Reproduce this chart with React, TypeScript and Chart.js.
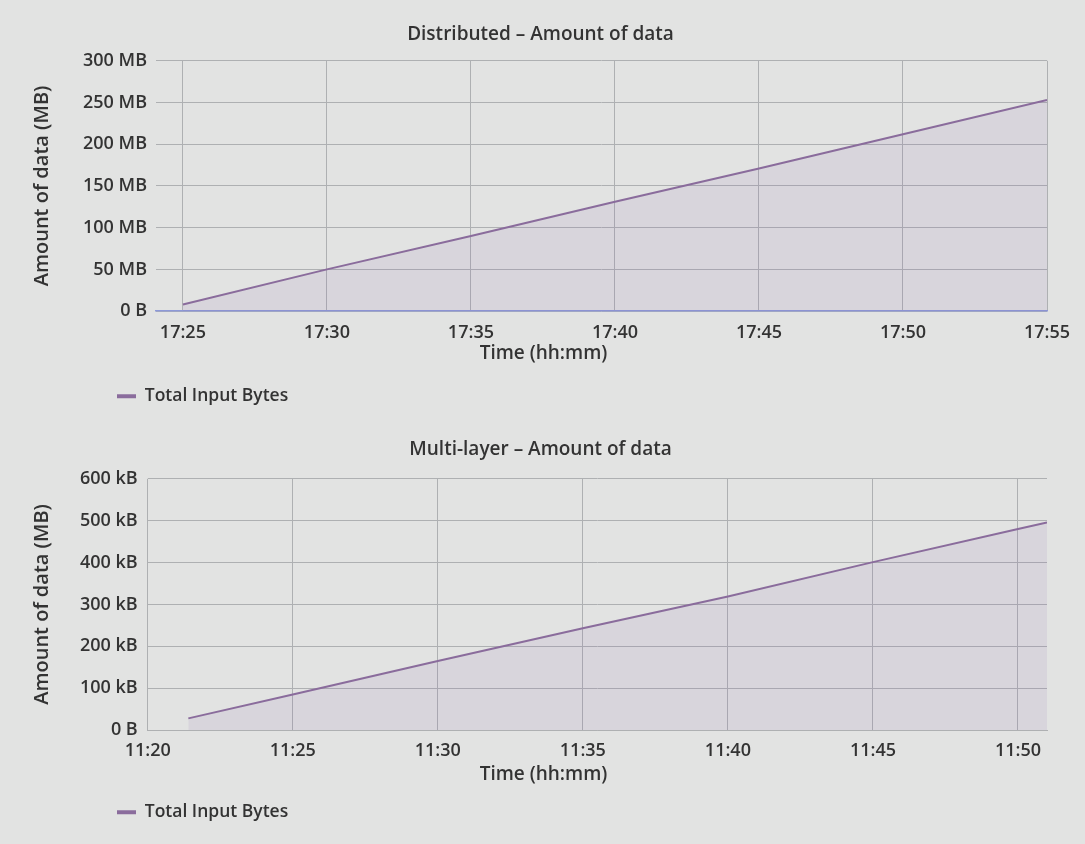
import React, { useEffect, useRef } from "react";
import { Chart, registerables } from "chart.js";

Chart.register(...registerables);

// ---------- data ----------
const seriesLabel = "Total Input Bytes";

const topTitle = "Distributed – Amount of data";
const topTimes = ["17:25", "17:30", "17:35", "17:40", "17:45", "17:50", "17:55"];
const topValuesMB = [8, 50, 90, 131, 171, 212, 253];
const topYTickLabels = ["0 B", "50 MB", "100 MB", "150 MB", "200 MB", "250 MB", "300 MB"];
const topXRange = ["17:24:04", "17:55"];

const bottomTitle = "Multi-layer – Amount of data";
const bottomTimes = ["11:21:24", "11:25", "11:30", "11:35", "11:40", "11:45", "11:50", "11:51"];
const bottomValuesKB = [28, 85, 165, 243, 319, 401, 480, 496];
const bottomYTickLabels = ["0 B", "100 kB", "200 kB", "300 kB", "400 kB", "500 kB", "600 kB"];
const bottomXRange = ["11:20", "11:51"];

const yAxisTitle = "Amount of data (MB)";
const xAxisTitle = "Time (hh:mm)";

// ---------- helpers ----------
const toMinutes = (s: string) => {
  const p = s.split(":").map(Number);
  return p[0] * 60 + p[1] + (p[2] || 0) / 60;
};
const fmtTime = (v: number) => {
  const total = Math.round(v);
  const h = Math.floor(total / 60);
  const m = total % 60;
  return `${h}:${m < 10 ? "0" : ""}${m}`;
};

const FONT = "'Open Sans', 'Noto Sans', sans-serif";
const TEXT = "#333333";
const GRID = "#aeb0b2";
const LINE = "#8a6c9c";
const FILL = "rgba(140,100,170,0.11)";

const layoutTweak = {
  id: "layoutTweak",
  afterLayout(chart: any) {
    const o = chart.options.plugins.layoutTweak || {};
    const l = chart.legend;
    if (l && typeof o.legendLeft === "number") l.left = o.legendLeft;
    for (const b of chart.boxes) {
      const t = b.options && b.options.text;
      if (t === xAxisTitle && o.subShift) {
        b.left += o.subShift;
        b.right += o.subShift;
      } else if (b === chart.titleBlock && o.titleShift) {
        b.left += o.titleShift;
        b.right += o.titleShift;
      }
    }
  },
};

function makeConfig(p: {
  title: string;
  times: string[];
  values: number[];
  yLabels: string[];
  yStep: number;
  xRange: string[];
  xBorder: string;
  xBorderWidth: number;
  padTop: number;
  padBottom: number;
  titlePadBottom: number;
  subPadBottom: number;
  axisShrink: number;
  xTickPad: number;
  yTitlePad: number;
  tickPad: number;
}) {
  const data = p.times.map((t, i) => ({ x: toMinutes(t), y: p.values[i] }));
  const yMax = p.yStep * (p.yLabels.length - 1);
  return {
    type: "line" as const,
    data: {
      datasets: [
        {
          label: seriesLabel,
          data,
          borderColor: LINE,
          backgroundColor: FILL,
          borderWidth: 2,
          fill: "origin",
          pointRadius: 0,
          tension: 0,
        },
      ],
    },
    plugins: [layoutTweak],
    options: {
      animation: false,
      responsive: false,
      maintainAspectRatio: false,
      events: [],
      layout: { padding: { top: p.padTop, left: 30, right: 38, bottom: p.padBottom } },
      plugins: {
        layoutTweak: { legendLeft: 107, subShift: 5, titleShift: 2 },
        tooltip: { enabled: false },
        title: {
          display: true,
          text: p.title,
          color: TEXT,
          font: { family: FONT, size: 19, weight: "600" },
          padding: { top: 0, bottom: p.titlePadBottom },
        },
        subtitle: {
          display: true,
          text: xAxisTitle,
          position: "bottom",
          weight: 500,
          color: TEXT,
          font: { family: FONT, size: 19, weight: "600" },
          padding: { top: 0, bottom: p.subPadBottom },
        },
        legend: {
          display: true,
          position: "bottom",
          align: "start",
          weight: 3000,
          labels: {
            boxWidth: 19,
            boxHeight: 4,
            padding: 10,
            color: TEXT,
            font: { family: FONT, size: 17.5, weight: "600" },
            generateLabels: (chart: any) =>
              Chart.defaults.plugins.legend.labels
                .generateLabels(chart)
                .map((it: any) => ({ ...it, fillStyle: LINE, strokeStyle: LINE, lineWidth: 0 })),
          },
        },
      },
      scales: {
        x: {
          type: "linear",
          min: toMinutes(p.xRange[0]),
          max: toMinutes(p.xRange[1]),
          afterFit: (scale: any) => {
            scale.height -= p.axisShrink;
          },
          ticks: {
            stepSize: 5,
            includeBounds: false,
            autoSkip: false,
            maxRotation: 0,
            padding: p.xTickPad,
            color: TEXT,
            font: { family: FONT, size: 18, weight: "600" },
            callback: (v: number) => fmtTime(v),
          },
          grid: { color: GRID, lineWidth: 1, drawTicks: false },
          border: { display: true, color: p.xBorder, width: p.xBorderWidth },
        },
        y: {
          min: 0,
          max: yMax,
          ticks: {
            stepSize: p.yStep,
            padding: p.tickPad,
            color: TEXT,
            font: { family: FONT, size: 18, weight: "600" },
            callback: (v: number) => p.yLabels[Math.round(v / p.yStep)] ?? "",
          },
          grid: { color: GRID, lineWidth: 1, drawTicks: false },
          border: { display: false },
          title: {
            display: true,
            text: yAxisTitle,
            color: TEXT,
            font: { family: FONT, size: 20, weight: "600" },
            padding: { top: 0, bottom: p.yTitlePad },
          },
        },
      },
    },
  };
}

function ChartCanvas({ config, width, height }: { config: any; width: number; height: number }) {
  const ref = useRef<HTMLCanvasElement | null>(null);
  useEffect(() => {
    if (!ref.current) return;
    const chart = new Chart(ref.current, config);
    return () => chart.destroy();
  }, [config]);
  return <canvas ref={ref} width={width} height={height} style={{ display: "block", width, height }} />;
}

const topConfig = makeConfig({
  title: topTitle,
  times: topTimes,
  values: topValuesMB,
  yLabels: topYTickLabels,
  yStep: 50,
  xRange: topXRange,
  xBorder: "#8d99d8",
  xBorderWidth: 1.5,
  padTop: 23,
  padBottom: 5,
  titlePadBottom: 15,
  subPadBottom: 13,
  axisShrink: 13,
  xTickPad: 11,
  yTitlePad: 20,
  tickPad: 9,
});

const bottomConfig = makeConfig({
  title: bottomTitle,
  times: bottomTimes,
  values: bottomValuesKB,
  yLabels: bottomYTickLabels,
  yStep: 100,
  xRange: bottomXRange,
  xBorder: GRID,
  xBorderWidth: 1,
  padTop: 18,
  padBottom: 13,
  titlePadBottom: 18,
  subPadBottom: 8,
  axisShrink: 9,
  xTickPad: 10,
  yTitlePad: 16,
  tickPad: 10,
});

export default function App() {
  return (
    <div
      style={{
        position: "absolute",
        left: 0,
        top: 0,
        width: 1085,
        height: 844,
        background: "#e2e3e2",
        overflow: "hidden",
      }}
    >
      <ChartCanvas config={topConfig} width={1085} height={420} />
      <ChartCanvas config={bottomConfig} width={1085} height={424} />
    </div>
  );
}
